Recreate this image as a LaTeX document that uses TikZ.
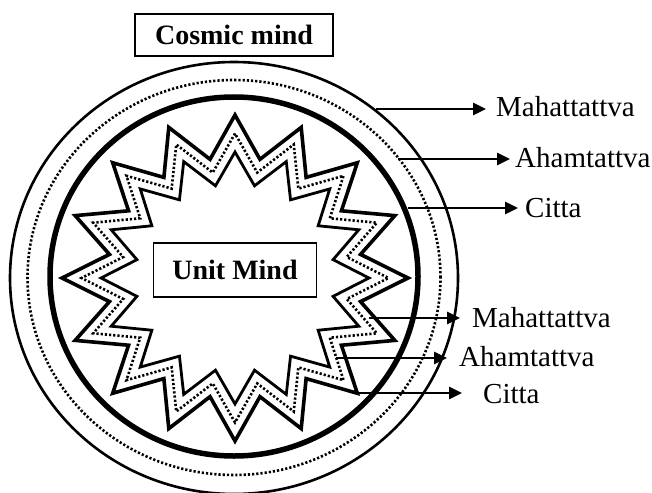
\documentclass[tikz,border=0pt]{standalone}
\usepackage{fontspec}
\setmainfont{Liberation Serif}
\usetikzlibrary{arrows.meta}
\begin{document}
\begin{tikzpicture}[x=1pt,y=-1pt,
  lbl/.style={font=\fontsize{29}{30}\selectfont, anchor=base west, inner sep=0pt},
  boxlbl/.style={draw, line width=1.5pt, font=\fontsize{28}{30}\selectfont\bfseries, inner sep=0pt},
  ptr/.style={line width=2.7pt, -{Triangle[length=13pt,width=12pt]}},
  thinring/.style={line width=2.6pt},
  dotring/.style={line width=2.6pt, dash pattern=on 2.2pt off 2pt},
  thickring/.style={line width=5.5pt},
  outerstar/.style={line width=3.6pt, line join=miter},
  innerstar/.style={line width=2.8pt, line join=miter},
  dotstar/.style={line width=2.6pt, dash pattern=on 2.2pt off 2pt, line join=miter}]
\useasboundingbox (0,0) rectangle (652,492);

% circles
\draw[thinring]  (234,278) ellipse [x radius=224pt, y radius=216pt];
\draw[dotring]   (234,277.5) ellipse [x radius=206.5pt, y radius=197.5pt];
\draw[thickring] (234,276.5) ellipse [x radius=184pt, y radius=179.5pt];

% stars (16 points)
\draw[outerstar] plot[samples at={0,...,31}, variable=\k]
  ({235+(173-45*mod(\k,2))*cos(90+\k*11.25)}, {278-(163-42*mod(\k,2))*sin(90+\k*11.25)}) -- cycle;
\draw[dotstar] plot[samples at={0,...,31}, variable=\k]
  ({235+(153.5-39.5*mod(\k,2))*cos(90+\k*11.25)}, {278-(144.5-37*mod(\k,2))*sin(90+\k*11.25)}) -- cycle;
\draw[innerstar] plot[samples at={0,...,31}, variable=\k]
  ({235+(134-34*mod(\k,2))*cos(90+\k*11.25)}, {278-(126-32*mod(\k,2))*sin(90+\k*11.25)}) -- cycle;

% boxes
\node[boxlbl, minimum width=198pt, minimum height=42pt] (cosmic) at (234,35) {Cosmic mind};
\node[boxlbl, fill=white, minimum width=163pt, minimum height=54pt] (unit) at (235,270) {Unit Mind};

% labels
\node[lbl] (m1) at (496,117) {Mahattattva};
\node[lbl] (a1) at (515,167) {Ahamtattva};
\node[lbl] (c1) at (525,217) {Citta};
\node[lbl] (m2) at (472,327) {Mahattattva};
\node[lbl] (a2) at (459,366) {Ahamtattva};
\node[lbl] (c2) at (483,403) {Citta};

% arrow start points
\coordinate (s1) at (376,109);
\coordinate (s2) at (398,159);
\coordinate (s3) at (408,208);
\coordinate (s4) at (369,318);
\coordinate (s5) at (336,358);
\coordinate (s6) at (357,393);

\draw[ptr] (s1) -- ([xshift=-10pt]s1 -| m1.west);
\draw[ptr] (s2) -- ([xshift=-5pt]s2 -| a1.west);
\draw[ptr] (s3) -- ([xshift=-7pt]s3 -| c1.west);
\draw[ptr] (s4) -- ([xshift=-12pt]s4 -| m2.west);
\draw[ptr] (s5) -- ([xshift=-12pt]s5 -| a2.west);
\draw[ptr] (s6) -- ([xshift=-21pt]s6 -| c2.west);
\end{tikzpicture}
\end{document}
